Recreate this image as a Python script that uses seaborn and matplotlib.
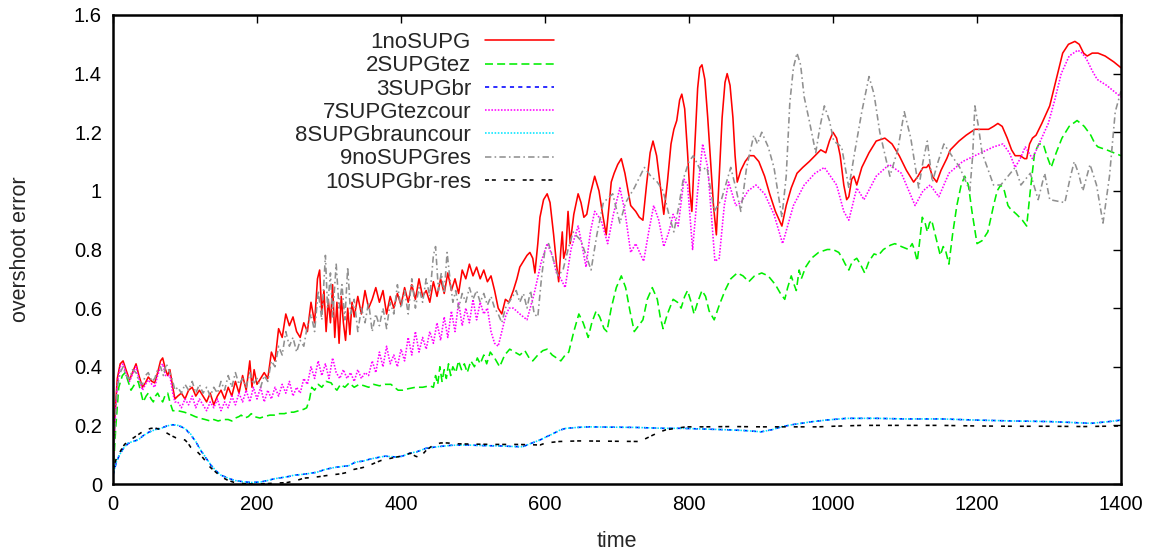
import matplotlib
matplotlib.use("Agg")
import matplotlib.pyplot as plt
import seaborn as sns
import numpy as np

# ---------------- data ----------------
x_ticks = [0, 200, 400, 600, 800, 1000, 1200, 1400]
x_tick_labels = ["0", "200", "400", "600", "800", "1000", "1200", "1400"]
y_ticks = [0, 0.2, 0.4, 0.6, 0.8, 1.0, 1.2, 1.4, 1.6]
y_tick_labels = ["0", "0.2", "0.4", "0.6", "0.8", "1", "1.2", "1.4", "1.6"]

series_names = ["1noSUPG", "2SUPGtez", "3SUPGbr", "7SUPGtezcour",
                "8SUPGbrauncour", "9noSUPGres", "10SUPGbr-res"]

red_t = [0, 3, 6, 10, 14, 18, 23, 27, 32, 36, 41, 45, 49, 54, 58, 62, 66, 69, 73, 76, 79, 83, 86,
         90, 95, 100, 105, 110, 115, 120, 125, 130, 135, 140, 145, 150, 155, 160, 165, 170, 175,
         180, 185, 190, 193, 196, 200, 205, 210, 215, 220, 225, 230, 235, 240, 245, 250, 255, 260,
         265, 270, 275, 280, 284, 287, 290, 293, 296, 299, 302, 305, 308, 311, 314, 317, 320, 323,
         326, 329, 332, 335, 340, 345, 350, 355, 360, 365, 370, 375, 380, 385, 390, 395, 400, 405,
         410, 415, 420, 425, 430, 435, 440, 445, 450, 455, 460, 465, 470, 475, 480, 485, 490, 495,
         500, 505, 510, 515, 520, 525, 530, 535, 540, 545, 550, 556, 561, 565, 570, 575, 579, 583,
         586, 590, 593, 598, 603, 607, 612, 616, 619, 622, 624, 626, 629, 632, 635, 640, 646, 650,
         654, 658, 663, 669, 675, 680, 685, 689, 692, 696, 701, 706, 711, 716, 719, 726, 731, 736,
         741, 746, 750, 755, 760, 765, 770, 775, 779, 783, 787, 790, 794, 798, 801, 804, 808, 812,
         815, 818, 822, 826, 830, 834, 838, 842, 846, 850, 853, 857, 861, 864, 867, 872, 878, 884,
         890, 897, 905, 912, 920, 929, 935, 942, 950, 958, 967, 975, 983, 990, 995, 1000, 1005,
         1010, 1015, 1019, 1022, 1026, 1029, 1033, 1040, 1050, 1060, 1072, 1082, 1092, 1102, 1112,
         1118, 1125, 1130, 1133, 1138, 1144, 1150, 1158, 1163, 1167, 1175, 1185, 1197, 1210, 1216,
         1223, 1229, 1235, 1242, 1248, 1253, 1260, 1266, 1269, 1273, 1277, 1282, 1290, 1301, 1310,
         1319, 1327, 1336, 1342, 1348, 1353, 1360, 1368, 1378, 1390, 1400]
red_v = [0.05, 0.25, 0.36, 0.41, 0.42, 0.39, 0.355, 0.38, 0.41, 0.37, 0.33, 0.345, 0.365, 0.35, 0.345,
         0.38, 0.42, 0.43, 0.39, 0.37, 0.39, 0.33, 0.29,
         0.30, 0.31, 0.29, 0.32, 0.33, 0.30, 0.32, 0.30, 0.28, 0.31, 0.27, 0.30, 0.32, 0.29, 0.33, 0.30,
         0.35, 0.31, 0.37, 0.32, 0.42, 0.33, 0.39, 0.34, 0.36, 0.38, 0.36, 0.45, 0.42, 0.53, 0.50, 0.58,
         0.54, 0.57, 0.52, 0.50, 0.55, 0.52, 0.62, 0.55, 0.70, 0.73, 0.58, 0.66, 0.52, 0.63, 0.55, 0.68,
         0.50, 0.62, 0.48, 0.64, 0.55, 0.49, 0.60, 0.51, 0.62, 0.57, 0.64, 0.58, 0.66, 0.60, 0.63, 0.67,
         0.62, 0.66, 0.58, 0.64, 0.60, 0.65, 0.61, 0.67, 0.62, 0.68, 0.63, 0.70, 0.64, 0.66, 0.62, 0.69,
         0.64, 0.70, 0.65, 0.72, 0.66, 0.70, 0.65, 0.73, 0.70, 0.75, 0.71, 0.74, 0.70, 0.73, 0.69, 0.71,
         0.66, 0.60, 0.58, 0.63, 0.62, 0.66, 0.70, 0.74, 0.76, 0.78, 0.79, 0.77, 0.72, 0.82, 0.91, 0.97,
         0.99, 0.96, 0.85, 0.75, 0.69, 0.80, 0.86, 0.77, 0.80, 0.93, 0.82, 0.92, 0.99, 0.96, 0.91, 0.92,
         0.99, 1.05, 1.00, 0.92, 0.85, 0.95, 1.03, 1.06, 1.09, 1.11, 1.06, 0.99, 0.95, 0.93, 0.91, 0.90,
         1.02, 1.13, 1.17, 1.12, 1.02, 0.92, 1.03, 1.16, 1.21, 1.24, 1.31, 1.33, 1.28, 1.13, 1.00, 0.93,
         1.15, 1.35, 1.42, 1.43, 1.38, 1.25, 1.10, 0.95, 0.85, 1.05, 1.25, 1.37, 1.40, 1.36, 1.25, 1.12,
         1.03, 1.07, 1.10, 1.12, 1.12, 1.10, 1.05, 0.99, 0.93, 0.88, 0.95, 1.01, 1.06, 1.08, 1.10, 1.12,
         1.14, 1.13, 1.17, 1.20, 1.18, 1.12, 1.02, 0.97, 0.98, 1.04, 1.05, 1.02, 1.08, 1.13, 1.17, 1.18,
         1.16, 1.12, 1.07, 1.03, 1.05, 1.08, 1.08, 1.09, 1.05, 1.03, 1.07, 1.11, 1.14, 1.15, 1.17, 1.19,
         1.21, 1.21, 1.21, 1.22, 1.23, 1.22, 1.18, 1.14, 1.12, 1.12, 1.11, 1.11, 1.16, 1.18, 1.19, 1.23,
         1.29, 1.38, 1.47, 1.50, 1.51, 1.50, 1.47, 1.46, 1.47, 1.47, 1.46, 1.44, 1.42]

green_t = [0, 4, 8, 13, 17, 21, 25, 30, 35, 39, 42, 46, 49, 53, 56, 59, 62, 66, 69, 72, 76, 79, 83,
           90, 99, 105, 114, 120, 128, 135, 140, 146, 153, 160, 165, 170, 175, 178, 183, 188, 192,
           196, 204, 210, 218, 224, 230, 238, 245, 251, 258, 265, 269, 273, 276, 280, 285, 290, 296,
           303, 307, 311, 316, 322, 328, 335, 342, 349, 355, 362, 370, 378, 386, 391, 396, 402, 410,
           420, 430, 440, 445, 448, 451, 454, 457, 460, 463, 466, 469, 472, 476, 480, 484, 488, 492,
           497, 502, 506, 510, 515, 519, 524, 530, 537, 544, 551, 558, 565, 572, 578, 583, 590, 597,
           603, 610, 616, 622, 628, 633, 640, 647, 653, 660, 665, 671, 676, 682, 686, 692, 699, 706,
           712, 718, 724, 730, 736, 742, 749, 756, 760, 764, 770, 778, 784, 789, 794, 798, 803, 807,
           812, 818, 823, 828, 835, 842, 850, 858, 867, 875, 883, 891, 901, 910, 920, 927, 933, 937,
           942, 946, 949, 953, 956, 962, 970, 980, 992, 1000, 1008, 1013, 1017, 1022, 1027, 1033,
           1038, 1044, 1050, 1057, 1063, 1070, 1080, 1086, 1095, 1105, 1110, 1113, 1117, 1120, 1124,
           1128, 1131, 1134, 1137, 1141, 1145, 1149, 1153, 1156, 1161, 1166, 1172, 1178, 1183, 1188,
           1193, 1200, 1207, 1215, 1223, 1228, 1233, 1238, 1243, 1246, 1255, 1263, 1269, 1274, 1280,
           1286, 1292, 1297, 1303, 1310, 1318, 1328, 1339, 1349, 1358, 1364, 1368, 1380, 1390, 1400]
green_v = [0.03, 0.20, 0.33, 0.37, 0.38, 0.35, 0.32, 0.34, 0.35, 0.31, 0.28, 0.30, 0.31, 0.29, 0.28,
           0.30, 0.31, 0.29, 0.28, 0.30, 0.31, 0.28, 0.25,
           0.25, 0.245, 0.24, 0.23, 0.225, 0.22, 0.215, 0.22, 0.215, 0.22, 0.22, 0.215, 0.225, 0.23,
           0.235, 0.225, 0.23, 0.24, 0.23, 0.225, 0.23, 0.235, 0.235, 0.24, 0.24, 0.245, 0.245, 0.25,
           0.255, 0.26, 0.29, 0.33, 0.32, 0.34, 0.33, 0.35, 0.345, 0.33, 0.32, 0.34, 0.33, 0.345, 0.33,
           0.34, 0.335, 0.33, 0.34, 0.335, 0.34, 0.34, 0.33, 0.32, 0.32, 0.325, 0.33, 0.33, 0.335, 0.33,
           0.37, 0.34, 0.40, 0.35, 0.39, 0.36, 0.41, 0.37, 0.40, 0.38, 0.42, 0.39, 0.41, 0.38, 0.42,
           0.40, 0.43, 0.41, 0.44, 0.41, 0.45, 0.43, 0.40, 0.44, 0.46, 0.45, 0.44, 0.455, 0.43, 0.42,
           0.44, 0.455, 0.46, 0.44, 0.43, 0.42, 0.44, 0.45, 0.52, 0.58, 0.55, 0.50, 0.55, 0.59, 0.57,
           0.53, 0.52, 0.60, 0.67, 0.71, 0.67, 0.59, 0.52, 0.54, 0.56, 0.63, 0.67, 0.63, 0.57, 0.53,
           0.58, 0.63, 0.62, 0.60, 0.64, 0.66, 0.62, 0.58, 0.62, 0.66, 0.64, 0.59, 0.56, 0.61, 0.66,
           0.70, 0.72, 0.71, 0.69, 0.71, 0.72, 0.71, 0.68, 0.65, 0.63, 0.67, 0.71, 0.68, 0.66, 0.73,
           0.70, 0.74, 0.77, 0.79, 0.80, 0.80, 0.79, 0.77, 0.75, 0.73, 0.76, 0.77, 0.75, 0.72, 0.76,
           0.785, 0.78, 0.80, 0.815, 0.82, 0.81, 0.80, 0.82, 0.80, 0.76, 0.82, 0.91, 0.89, 0.86, 0.89,
           0.90, 0.86, 0.82, 0.78, 0.81, 0.80, 0.75, 0.85, 0.95, 1.02, 1.05, 1.02, 0.93, 0.82, 0.83,
           0.86, 0.95, 1.00, 1.02, 1.00, 0.95, 0.94, 0.92, 0.90, 0.88, 1.00, 1.13, 1.16, 1.16, 1.12,
           1.08, 1.13, 1.18, 1.22, 1.24, 1.22, 1.19, 1.16, 1.15, 1.14, 1.13, 1.12]

cyan_t = [0, 4, 8, 14, 21, 28, 35, 42, 49, 58, 67, 75, 83, 90, 96, 102, 108, 115, 122, 129, 136,
          143, 150, 160, 169, 180, 192, 205, 215, 224, 235, 245, 251, 260, 270, 283, 295, 307, 318,
          327, 337, 347, 357, 367, 378, 388, 395, 402, 412, 422, 435, 450, 470, 492, 515, 537, 555,
          569, 580, 593, 601, 610, 620, 629, 645, 661, 690, 726, 764, 790, 814, 853, 880, 900, 915,
          928, 945, 969, 990, 1019, 1060, 1100, 1150, 1200, 1250, 1300, 1330, 1358, 1380, 1400]
cyan_v = [0.03, 0.07, 0.095, 0.12, 0.14, 0.145, 0.15, 0.165, 0.175, 0.185, 0.19, 0.198, 0.203, 0.20,
          0.195, 0.185, 0.17, 0.145, 0.115, 0.09, 0.065, 0.045, 0.03, 0.02, 0.012, 0.008, 0.005,
          0.007, 0.012, 0.018, 0.022, 0.026, 0.03, 0.032, 0.035, 0.04, 0.05, 0.056, 0.06, 0.062,
          0.075, 0.078, 0.085, 0.09, 0.095, 0.093, 0.092, 0.095, 0.105, 0.11, 0.122, 0.127, 0.132,
          0.133, 0.131, 0.13, 0.128, 0.127, 0.138, 0.15, 0.16, 0.17, 0.183, 0.19, 0.193, 0.195,
          0.194, 0.193, 0.19, 0.19, 0.188, 0.185, 0.182, 0.178, 0.185, 0.195, 0.203, 0.212, 0.218,
          0.224, 0.224, 0.222, 0.222, 0.218, 0.215, 0.213, 0.21, 0.207, 0.212, 0.218]

blue_t = [0, 4, 8, 14, 21, 28, 35, 42, 49, 58, 67, 75, 83, 90, 96, 102, 108, 115, 122, 129, 136,
          143, 150, 160, 169, 180, 192, 205, 215, 224, 235, 245, 251, 260, 270, 283, 295, 307, 318,
          327, 337, 347, 357, 367, 378, 388, 395, 402, 412, 422, 435, 450, 470, 492, 515, 537, 555,
          569, 580, 593, 601, 610, 620, 629, 645, 661, 690, 726, 764, 790, 814, 853, 880, 900, 915,
          928, 945, 969, 990, 1019, 1060, 1100, 1150, 1200, 1250, 1300, 1330, 1358, 1380, 1400]
blue_v = [0.03, 0.068, 0.094, 0.12, 0.138, 0.145, 0.151, 0.165, 0.176, 0.186, 0.191, 0.198, 0.202,
          0.20, 0.194, 0.184, 0.168, 0.144, 0.114, 0.089, 0.064, 0.045, 0.03, 0.02, 0.012, 0.008,
          0.005, 0.007, 0.012, 0.018, 0.022, 0.026, 0.03, 0.032, 0.035, 0.04, 0.05, 0.056, 0.06,
          0.062, 0.075, 0.078, 0.085, 0.09, 0.095, 0.093, 0.092, 0.095, 0.105, 0.11, 0.122, 0.127,
          0.132, 0.133, 0.131, 0.13, 0.128, 0.127, 0.138, 0.15, 0.16, 0.17, 0.183, 0.19, 0.193,
          0.195, 0.194, 0.193, 0.19, 0.19, 0.188, 0.185, 0.182, 0.178, 0.185, 0.195, 0.203, 0.212,
          0.218, 0.224, 0.224, 0.222, 0.222, 0.218, 0.215, 0.213, 0.21, 0.207, 0.212, 0.218]

magenta_t = [0, 3, 6, 10, 14, 18, 23, 28, 32, 36, 41, 45, 49, 54, 58, 62, 66, 69, 73, 79, 83, 86,
             90, 95, 100, 105, 110, 115, 120, 125, 130, 135, 140, 145, 150, 155, 160, 165, 170, 175,
             180, 185, 190, 195, 200, 205, 210, 215, 220, 225, 230, 235, 240, 245, 250, 255, 260,
             265, 270, 275, 280, 285, 290, 295, 300, 305, 310, 315, 320, 325, 330, 335, 340, 345,
             350, 355, 360, 365, 370, 375, 380, 385, 390, 395, 400, 405, 410, 415, 420, 425, 430,
             435, 440, 445, 450, 455, 460, 465, 470, 475, 480, 485, 490, 495, 500, 505, 510, 515,
             520, 525, 530, 535, 540, 545, 550, 556, 565, 575, 585, 595, 603, 610, 616, 622, 628,
             636, 646, 651, 657, 663, 669, 678, 687, 695, 704, 711, 719, 726, 737, 744, 751, 758,
             765, 772, 778, 785, 793, 798, 805, 812, 819, 826, 831, 836, 842, 849, 855, 865, 872,
             882, 893, 905, 918, 930, 945, 960, 975, 988, 1005, 1015, 1022, 1033, 1043, 1060, 1078,
             1095, 1114, 1125, 1135, 1147, 1161, 1180, 1197, 1223, 1236, 1245, 1253, 1260, 1267,
             1277, 1288, 1299, 1308, 1317, 1328, 1340, 1346, 1352, 1360, 1367, 1380, 1400]
magenta_v = [0.04, 0.22, 0.34, 0.40, 0.41, 0.38, 0.35, 0.38, 0.40, 0.36, 0.32, 0.34, 0.355, 0.34,
             0.33, 0.37, 0.40, 0.41, 0.37, 0.37, 0.31, 0.28,
             0.28, 0.26, 0.29, 0.27, 0.30, 0.26, 0.29, 0.27, 0.25, 0.28, 0.26, 0.29, 0.25, 0.28, 0.26,
             0.30, 0.27, 0.31, 0.28, 0.32, 0.28, 0.33, 0.29, 0.33, 0.28, 0.32, 0.29, 0.33, 0.30, 0.34,
             0.31, 0.35, 0.30, 0.33, 0.31, 0.36, 0.34, 0.40, 0.36, 0.42, 0.37, 0.41, 0.36, 0.43, 0.38,
             0.36, 0.39, 0.36, 0.38, 0.35, 0.39, 0.36, 0.38, 0.37, 0.42, 0.38, 0.45, 0.40, 0.47, 0.41,
             0.44, 0.40, 0.46, 0.42, 0.50, 0.44, 0.52, 0.45, 0.50, 0.46, 0.52, 0.48, 0.55, 0.49, 0.57,
             0.50, 0.59, 0.52, 0.62, 0.54, 0.60, 0.55, 0.63, 0.56, 0.62, 0.58, 0.60, 0.52, 0.48, 0.47,
             0.52, 0.57, 0.60, 0.60, 0.58, 0.56, 0.65, 0.76, 0.82, 0.78, 0.72, 0.70, 0.67, 0.80, 0.88,
             0.82, 0.74, 0.86, 0.93, 0.90, 0.82, 0.92, 1.01, 0.93, 0.79, 0.82, 0.76, 0.86, 0.95, 0.90,
             0.81, 0.86, 0.92, 0.88, 1.04, 1.02, 0.80, 1.00, 1.16, 1.08, 0.92, 0.76, 0.77, 0.95, 1.03,
             0.95, 0.96, 1.00, 1.02, 0.99, 0.92, 0.82, 0.95, 1.02, 1.06, 1.08, 1.02, 0.93, 0.90, 1.01,
             0.97, 1.05, 1.09, 1.06, 0.95, 1.00, 1.02, 0.98, 1.06, 1.10, 1.12, 1.15, 1.16, 1.13, 1.08,
             1.11, 1.15, 1.11, 1.17, 1.23, 1.31, 1.40, 1.46, 1.48, 1.47, 1.45, 1.41, 1.38, 1.36, 1.32]

gray_t = [0, 3, 6, 10, 14, 18, 23, 27, 32, 36, 41, 45, 49, 54, 58, 62, 66, 70, 74, 79, 83, 86,
          90, 95, 100, 105, 110, 115, 120, 125, 130, 135, 140, 145, 150, 155, 160, 165, 170, 175,
          180, 185, 190, 195, 200, 205, 210, 215, 220, 225, 230, 235, 240, 245, 250, 255, 260, 265,
          270, 275, 280, 285, 290, 295, 298, 302, 305, 310, 314, 318, 322, 326, 330, 335, 340, 345,
          350, 355, 360, 365, 370, 375, 380, 385, 390, 395, 400, 405, 410, 415, 420, 425, 430, 435,
          440, 445, 448, 452, 456, 460, 464, 468, 472, 476, 480, 485, 490, 495, 500, 505, 510, 515,
          520, 525, 530, 535, 540, 545, 550, 555, 560, 565, 570, 575, 580, 585, 590, 595, 600, 605,
          610, 618, 625, 632, 639, 650, 657, 664, 672, 681, 694, 704, 712, 724, 738, 747, 756, 764,
          772, 779, 786, 792, 800, 806, 816, 825, 835, 845, 858, 865, 872, 880, 890, 895, 901, 910,
          918, 929, 935, 940, 945, 950, 955, 960, 967, 976, 982, 988, 995, 1001, 1012, 1022, 1030,
          1040, 1050, 1057, 1065, 1079, 1090, 1099, 1108, 1119, 1125, 1131, 1138, 1146, 1154, 1165,
          1176, 1190, 1194, 1197, 1202, 1207, 1223, 1233, 1243, 1253, 1261, 1274, 1285, 1294, 1301,
          1322, 1329, 1335, 1341, 1347, 1357, 1366, 1375, 1384, 1392, 1400]
gray_v = [0.04, 0.22, 0.33, 0.38, 0.40, 0.37, 0.36, 0.39, 0.38, 0.35, 0.34, 0.37, 0.38, 0.35, 0.36,
          0.39, 0.40, 0.37, 0.41, 0.38, 0.35, 0.32,
          0.33, 0.31, 0.34, 0.32, 0.35, 0.31, 0.34, 0.31, 0.33, 0.30, 0.33, 0.31, 0.35, 0.32, 0.37,
          0.33, 0.38, 0.34, 0.36, 0.33, 0.38, 0.34, 0.36, 0.33, 0.37, 0.35, 0.42, 0.40, 0.47, 0.44,
          0.52, 0.47, 0.50, 0.45, 0.49, 0.47, 0.54, 0.58, 0.52, 0.66, 0.56, 0.78, 0.60, 0.72, 0.57,
          0.75, 0.60, 0.68, 0.56, 0.74, 0.58, 0.63, 0.52, 0.60, 0.55, 0.62, 0.52, 0.58, 0.54, 0.60,
          0.53, 0.62, 0.58, 0.68, 0.60, 0.66, 0.58, 0.70, 0.60, 0.67, 0.62, 0.70, 0.64, 0.78, 0.81,
          0.66, 0.72, 0.65, 0.79, 0.70, 0.62, 0.66, 0.60, 0.65, 0.62, 0.67, 0.63, 0.66, 0.62, 0.65,
          0.61, 0.64, 0.60, 0.58, 0.55, 0.60, 0.62, 0.64, 0.66, 0.62, 0.65, 0.60, 0.66, 0.58, 0.57,
          0.70, 0.80, 0.82, 0.78, 0.71, 0.73, 0.80, 0.86, 0.83, 0.78, 0.73, 0.85, 0.96, 0.99, 0.89,
          0.96, 1.01, 1.08, 1.05, 1.03, 1.00, 0.92, 0.86, 0.95, 1.04, 1.10, 1.12, 1.07, 1.08, 0.93,
          0.97, 1.08, 1.01, 0.93, 1.08, 1.19, 1.16, 1.20, 1.15, 1.08, 0.91, 1.05, 1.30, 1.42, 1.47,
          1.43, 1.32, 1.24, 1.13, 1.22, 1.29, 1.24, 1.17, 1.15, 1.01, 1.13, 1.27, 1.39, 1.33, 1.20,
          1.05, 1.14, 1.27, 1.18, 1.01, 1.10, 1.17, 1.03, 1.10, 1.16, 1.12, 1.08, 1.00, 1.12, 1.29,
          1.22, 1.13, 1.02, 1.02, 1.05, 1.08, 1.02, 1.06, 0.97, 1.06, 0.97, 0.96, 1.04, 1.10, 1.06,
          1.00, 1.09, 1.02, 0.89, 1.05, 1.27, 1.34]

black_t = [0, 5, 11, 16, 21, 30, 39, 46, 53, 60, 67, 74, 81, 87, 93, 100, 104, 108, 113, 117, 123,
           128, 132, 136, 143, 150, 160, 169, 186, 200, 220, 242, 255, 265, 276, 286, 300, 317, 326,
           335, 345, 353, 362, 372, 381, 390, 400, 407, 413, 420, 426, 435, 445, 455, 464, 480, 500,
           530, 560, 580, 593, 601, 620, 647, 690, 731, 740, 750, 760, 768, 782, 796, 820, 860, 900,
           940, 980, 1000, 1040, 1100, 1150, 1200, 1250, 1300, 1350, 1400]
black_v = [0.05, 0.09, 0.115, 0.135, 0.145, 0.16, 0.175, 0.185, 0.19, 0.19, 0.185, 0.175, 0.165,
           0.158, 0.155, 0.15, 0.14, 0.125, 0.115, 0.11, 0.095, 0.08, 0.065, 0.055, 0.04, 0.025,
           0.012, 0.005, 0.0, 0.0, 0.002, 0.005, 0.012, 0.02, 0.022, 0.025, 0.03, 0.035, 0.04, 0.05,
           0.055, 0.06, 0.07, 0.08, 0.085, 0.09, 0.095, 0.10, 0.105, 0.095, 0.09, 0.115, 0.133,
           0.14, 0.14, 0.137, 0.136, 0.135, 0.135, 0.134, 0.133, 0.14, 0.145, 0.147, 0.146, 0.145,
           0.155, 0.167, 0.178, 0.185, 0.19, 0.195, 0.195, 0.196, 0.195, 0.195, 0.195, 0.197, 0.20,
           0.20, 0.20, 0.198, 0.197, 0.197, 0.196, 0.198]

# ---------------- styling ----------------
sns.set_style("white")
plt.rcParams["font.family"] = ["Liberation Sans", "DejaVu Sans"]

fig = plt.figure(figsize=(11.58, 5.56), dpi=100)
ax = fig.add_axes([113 / 1158, 1 - 484 / 556, (1121 - 113) / 1158, (484 - 15) / 556])

series = [
    (red_t, red_v, "#ff0000", "-"),
    (green_t, green_v, "#00ee00", (0, (5, 2.6))),
    (blue_t, blue_v, "#0000ff", (0, (2.6, 2.6))),
    (magenta_t, magenta_v, "#ff00ff", (0, (1, 1))),
    (cyan_t, cyan_v, "#00e5ff", (0, (1, 1))),
    (gray_t, gray_v, "#909090", (0, (4, 2, 1, 2))),
    (black_t, black_v, "#000000", (0, (2.5, 1.8, 2.5, 5))),
]

lw = 1.15
handles = []
for (t, v, col, ls), name in zip(series, series_names):
    sns.lineplot(x=t, y=v, ax=ax, color=col, linewidth=lw, estimator=None, sort=False)
    line = ax.lines[-1]
    line.set_linestyle(ls)
    handles.append(line)

ax.set_xlim(0, 1400)
ax.set_ylim(0, 1.6)
ax.set_xticks(x_ticks)
ax.set_xticklabels(x_tick_labels)
ax.set_yticks(y_ticks)
ax.set_yticklabels(y_tick_labels)
ax.tick_params(direction="in", length=6, width=1.0, top=True, right=True,
               labelsize=14.5, pad=8, colors="black")
for s in ax.spines.values():
    s.set_visible(True)
    s.set_color("black")
    s.set_linewidth(1.8)

ax.set_xlabel("time", fontsize=15.5, labelpad=12)
ax.set_ylabel("overshoot error", fontsize=15.5, labelpad=31)

leg = ax.legend(handles, series_names, loc="upper right", bbox_to_anchor=(0.44, 0.968),
                frameon=False, markerfirst=False, fontsize=16, handlelength=3.1,
                handletextpad=0.65, labelspacing=0.1, borderpad=0.1, borderaxespad=0.0)

fig.savefig("out.png", dpi=100)
